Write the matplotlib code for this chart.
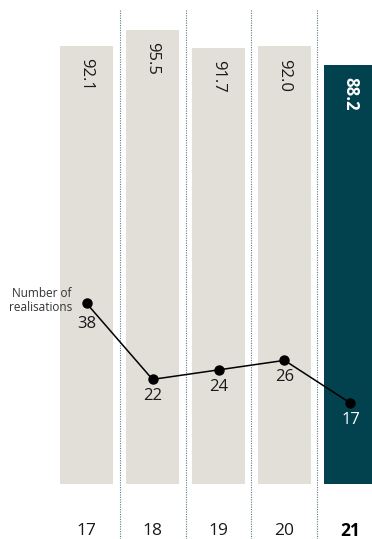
import matplotlib
matplotlib.use("Agg")
import matplotlib.pyplot as plt

# Data
years = ["17", "18", "19", "20", "21"]
rate_values = [92.1, 95.5, 91.7, 92.0, 88.2]
realisations = [38, 22, 24, 26, 17]

LIGHT = "#e2dfd9"
DARK = "#02424f"
TEXT = "#1a1a1a"
FONT = "Open Sans"

plt.rcParams["font.family"] = [FONT, "DejaVu Sans"]

fig = plt.figure(figsize=(3.72, 5.39), dpi=100)
ax = fig.add_axes([0, 0, 1, 1])
ax.set_xlim(-1.311, 4.326)
ax.set_ylim(-11.56, 101.77)
ax.axis("off")

x = list(range(len(years)))
last = len(years) - 1
colors = [DARK if i == last else LIGHT for i in x]

ax.bar(x, rate_values, width=0.803, color=colors, zorder=1)

# dotted separators between years
for b in range(len(years) - 1):
    ax.vlines(b + 0.5, -11.56, 99.9, colors="#5b7c87", linewidth=0.8,
              linestyles=(0, (1, 1.2)), zorder=0)

# bar values, rotated
for i, v in enumerate(rate_values):
    hi = i == last
    ax.annotate(f"{v:.1f}", xy=(i, v), xytext=(0, -9), textcoords="offset points",
                ha="center", va="top", rotation=-90, fontsize=12,
                color="white" if hi else TEXT,
                fontweight="bold" if hi else "normal", zorder=3)

# realisations line
ax.plot(x, realisations, color="black", linewidth=1.1, marker="o",
        markersize=6.5, zorder=4)
for i, v in enumerate(realisations):
    off = -15 if i == 0 else -12
    ax.annotate(str(v), xy=(i, v), xytext=(0, off), textcoords="offset points",
                ha="center", va="center", fontsize=12,
                color="white" if i == last else TEXT, zorder=5)

ax.text(-0.22, realisations[0] + 0.5, "Number of\nrealisations", ha="right",
        va="center", fontsize=8.5, color="#333333", linespacing=1.1, zorder=5)

# year labels
for i, y in enumerate(years):
    ax.text(i, -9.8, y, ha="center", va="center", fontsize=12.5,
            color=TEXT if i != last else "black",
            fontweight="bold" if i == last else "normal")

fig.savefig("out.png", dpi=100)
